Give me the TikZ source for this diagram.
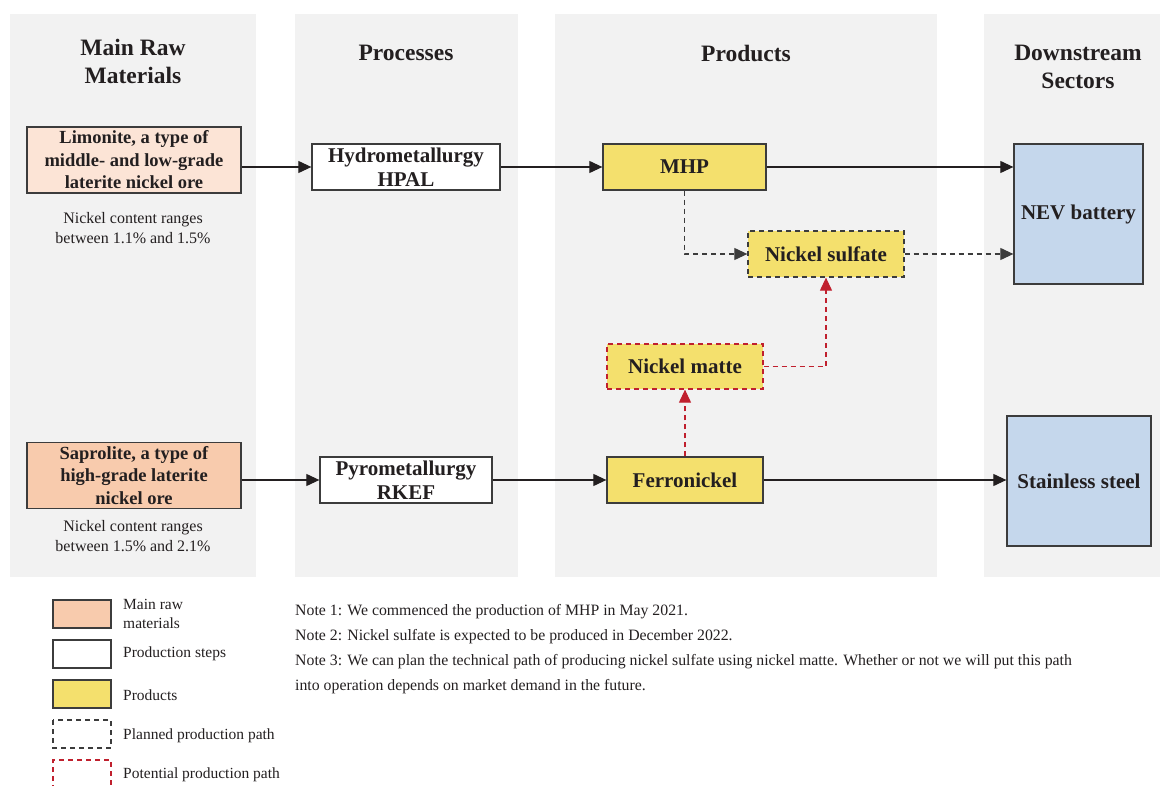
\documentclass[tikz,border=0pt]{standalone}
\usepackage{fontspec}
\setmainfont{Liberation Serif}
\usetikzlibrary{arrows.meta}
\definecolor{bg}{HTML}{F2F2F2}
\definecolor{txt}{HTML}{231F20}
\definecolor{edge}{HTML}{3C3C3C}
\definecolor{limfill}{HTML}{FCE4D6}
\definecolor{sapfill}{HTML}{F8CBAD}
\definecolor{prodfill}{HTML}{F4E06D}
\definecolor{bluefill}{HTML}{C5D7EC}
\definecolor{redd}{HTML}{C0202E}
\begin{document}
\begin{tikzpicture}[x=1pt,y=-1pt,
  every node/.style={text=txt},
  box/.style={draw=edge, line width=1.3pt, inner sep=0pt, align=center, font=\fontsize{21}{24}\selectfont\bfseries},
  rawbox/.style={box, font=\fontsize{18.5}{22.5}\selectfont\bfseries, minimum width=214pt, minimum height=66pt},
  header/.style={align=center, font=\fontsize{23.5}{28}\selectfont\bfseries},
  small/.style={align=center, font=\fontsize{16}{19.5}\selectfont},
  legtxt/.style={anchor=west, inner sep=0pt, align=left, font=\fontsize{15.5}{18.5}\selectfont},
  notetxt/.style={anchor=west, inner sep=0pt, font=\fontsize{15.8}{19}\selectfont},
  conn/.style={draw=txt, line width=1.1pt, -{Triangle[length=13pt,width=12pt]}},
  planned/.style={conn, draw=edge, dash pattern=on 5pt off 4pt},
  potential/.style={conn, draw=redd, dash pattern=on 5pt off 4pt},
]
\useasboundingbox (0,0) rectangle (1160,786);
% columns
\fill[bg] (10,14) rectangle (256,577);
\fill[bg] (295,14) rectangle (518,577);
\fill[bg] (555,14) rectangle (937,577);
\fill[bg] (984,14) rectangle (1160,577);
% headers
\node[header] (h1) at (133,61) {Main Raw\\Materials};
\node[header] (h2) at (406,53) {Processes};
\node[header] (h3) at (746,53) {Products};
\node[header] (h4) at (1078,67) {Downstream\\Sectors};
% boxes
\node[rawbox, fill=limfill] (lim) at (134,160) {Limonite, a type of\\middle- and low-grade\\laterite nickel ore};
\node[small] (limnote) at (133,228) {Nickel content ranges\\between 1.1\% and 1.5\%};
\node[rawbox, fill=sapfill] (sap) at (134,475.5) {Saprolite, a type of\\high-grade laterite\\nickel ore};
\node[small] (sapnote) at (133,536) {Nickel content ranges\\between 1.5\% and 2.1\%};
\node[box, fill=white, minimum width=188pt, minimum height=46pt] (hpal) at (406,167) {Hydrometallurgy\\HPAL};
\node[box, fill=white, minimum width=172pt, minimum height=46pt] (rkef) at (406,480) {Pyrometallurgy\\RKEF};
\node[box, fill=prodfill, minimum width=163pt, minimum height=46pt] (mhp) at (684.5,167) {MHP};
\node[box, fill=prodfill, draw=edge, dash pattern=on 5pt off 4pt, minimum width=156pt, minimum height=46pt] (nisulf) at (826,254) {Nickel sulfate};
\node[box, fill=prodfill, draw=redd, dash pattern=on 5pt off 4pt, minimum width=156pt, minimum height=45pt] (nimatte) at (685,366.5) {Nickel matte};
\node[box, fill=prodfill, minimum width=156pt, minimum height=46pt] (ferro) at (685,480) {Ferronickel};
\node[box, fill=bluefill, minimum width=129pt, minimum height=140pt] (nev) at (1078.5,214) {NEV battery};
\node[box, fill=bluefill, minimum width=144pt, minimum height=130pt] (ss) at (1079,481) {Stainless steel};
% connectors
\draw[conn] (lim.east |- hpal.west) -- (hpal.west);
\draw[conn] (hpal.east) -- (mhp.west);
\draw[conn] (mhp.east) -- (nev.west |- mhp.east);
\draw[planned] (mhp.south) |- (nisulf.west);
\draw[planned] (nisulf.east) -- (nev.west |- nisulf.east);
\draw[conn] (sap.east |- rkef.west) -- (rkef.west);
\draw[conn] (rkef.east) -- (ferro.west);
\draw[conn] (ferro.east) -- (ss.west |- ferro.east);
\draw[potential] (ferro.north) -- (nimatte.south);
\draw[potential] (nimatte.east) -| (nisulf.south);
% legend
\draw[draw=edge, line width=1.3pt, fill=sapfill] (53,600) rectangle (111,628);
\node[legtxt] (l1) at (123,614) {Main raw\\materials};
\draw[draw=edge, line width=1.3pt, fill=white] (53,640) rectangle (111,668);
\node[legtxt] (l2) at (123,654) {Production steps};
\draw[draw=edge, line width=1.3pt, fill=prodfill] (53,680) rectangle (111,708);
\node[legtxt] (l3) at (123,695) {Products};
\draw[draw=edge, line width=1.3pt, dash pattern=on 5pt off 4pt] (53,720) rectangle (111,748);
\node[legtxt] (l4) at (123,736) {Planned production path};
\draw[draw=redd, line width=1.3pt, dash pattern=on 5pt off 4pt] (53,790) -- (53,760) -- (111,760) -- (111,790);
\node[legtxt] (l5) at (123,775) {Potential production path};
% notes
\node[notetxt] (n1) at (295,612) {Note 1: We commenced the production of MHP in May 2021.};
\node[notetxt] (n2) at (295,637) {Note 2: Nickel sulfate is expected to be produced in December 2022.};
\node[notetxt] (n3) at (295,662) {Note 3: We can plan the technical path of producing nickel sulfate using nickel matte. Whether or not we will put this path};
\node[notetxt] (n4) at (295,687) {into operation depends on market demand in the future.};
\end{tikzpicture}
\end{document}
